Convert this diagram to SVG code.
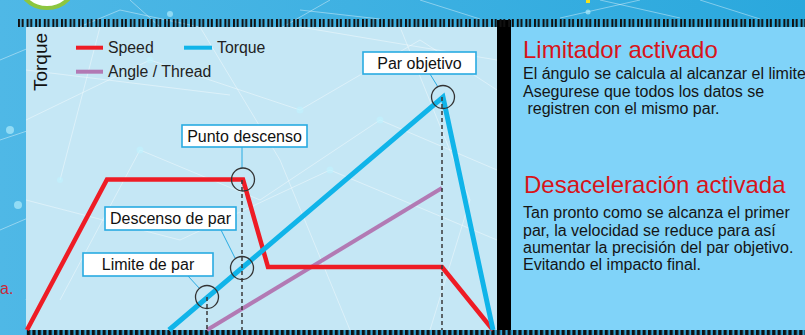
<svg xmlns="http://www.w3.org/2000/svg" width="805" height="335" viewBox="0 0 805 335">
  <defs>
    <linearGradient id="bg" x1="0" y1="0" x2="1" y2="0">
      <stop offset="0" stop-color="#4fb8e6"/>
      <stop offset="1" stop-color="#2aa8dd"/>
    </linearGradient>
    <pattern id="ticksTop" x="18" y="19" width="8.6" height="8" patternUnits="userSpaceOnUse">
      <rect x="0" y="0" width="2" height="8" fill="#111"/>
      <rect x="3.6" y="0" width="2" height="8" fill="#111"/>
    </pattern>
    <pattern id="ticksBot" x="27" y="330" width="5.4" height="5" patternUnits="userSpaceOnUse">
      <rect x="0" y="0" width="3.2" height="5" fill="#111"/>
    </pattern>
  </defs>
  <style>
    .sans { font-family: "Liberation Sans", Arial, sans-serif; }
    .net { stroke: #ffffff; stroke-width: 1; opacity: 0.4; fill: none; }
    .dot { fill: #bff3ff; opacity: 0.6; }
    .callout rect { fill: #ffffff; stroke: #29abe2; stroke-width: 1.6; }
    .callout text { font-family: "Liberation Sans", Arial, sans-serif; font-size: 16px; fill: #111; text-anchor: middle; }
    .leader { stroke: #29abe2; stroke-width: 1; fill: none; }
    .guide { stroke: #3a3a3a; stroke-width: 1.5; stroke-dasharray: 4 3; fill: none; }
    .ring { stroke: #333; stroke-width: 1.3; fill: none; }
    .series { fill: none; stroke-linejoin: miter; stroke-linecap: butt; }
    .head { font-family: "Liberation Sans", Arial, sans-serif; font-size: 24px; fill: #d7141a; }
    .body { font-family: "Liberation Sans", Arial, sans-serif; font-size: 16px; fill: #151515; }
  </style>

  <!-- background -->
  <rect x="0" y="0" width="805" height="335" fill="url(#bg)"/>
  <g id="background-network">
    <path class="net" d="M0 60 L120 10 L260 40 L330 0 M0 140 L90 110 L200 150 M0 230 L70 200 L26 300 M130 0 L180 45 M560 18 L640 0 M600 0 L680 18 M700 0 L760 19 M420 0 L480 19 M300 10 L380 19"/>
    <circle class="dot" cx="10" cy="130" r="4"/>
    <circle class="dot" cx="18" cy="205" r="4"/>
    <circle class="dot" cx="170" cy="14" r="3"/>
    <circle class="dot" cx="588" cy="12" r="2.5"/>
  </g>
  <circle cx="47" cy="-22" r="30" fill="#ffffff" stroke="#8dc63f" stroke-width="4"/>
  <rect x="586" y="0" width="4" height="3" fill="#f5e11c"/>

  <!-- chart panel -->
  <rect id="chart-panel" x="26" y="27" width="471" height="303" fill="#c5e7f5"/>
  <g id="chart-network">
    <path class="net" d="M26 120 L150 60 L300 110 L420 40 L497 90 M60 300 L140 150 L260 200 L380 120 L497 170 M26 200 L180 240 L330 170 L497 240 M200 27 L280 160 L350 330 M100 27 L60 180 M400 27 L470 200 L430 330 M300 27 L497 60 M26 70 L230 95"/>
    <circle class="dot" cx="150" cy="60" r="3.5"/>
    <circle class="dot" cx="300" cy="110" r="3.5"/>
    <circle class="dot" cx="140" cy="150" r="3.5"/>
    <circle class="dot" cx="380" cy="120" r="3.5"/>
    <circle class="dot" cx="330" cy="170" r="3.5"/>
    <circle class="dot" cx="60" cy="180" r="3"/>
  </g>

  <!-- right info panel -->
  <rect id="info-panel" x="511" y="27" width="294" height="303" fill="#80d3f9"/>
  <rect id="divider" x="497" y="20" width="14" height="310" fill="#000"/>

  <!-- tick strips -->
  <rect x="18" y="19" width="787" height="8" fill="url(#ticksTop)"/>
  <rect x="26" y="330" width="779" height="5" fill="#2f9fd0"/>
  <rect x="27" y="330" width="778" height="5" fill="url(#ticksBot)"/>

  <!-- axis label -->
  <text class="sans" transform="translate(47,62) rotate(-90)" text-anchor="middle" font-size="19" fill="#111">Torque</text>

  <!-- legend -->
  <g id="legend">
    <line x1="76" y1="47.7" x2="103" y2="47.7" stroke="#ee1c25" stroke-width="4"/>
    <text class="sans" x="108" y="52.7" font-size="15.8" fill="#222">Speed</text>
    <line x1="184" y1="47.7" x2="212" y2="47.7" stroke="#10b4e9" stroke-width="4"/>
    <text class="sans" x="217" y="52.7" font-size="15.8" fill="#222">Torque</text>
    <line x1="76" y1="71.7" x2="103" y2="71.7" stroke="#b27ab4" stroke-width="4"/>
    <text class="sans" x="108" y="76.7" font-size="15.8" fill="#222">Angle / Thread</text>
  </g>

  <!-- series -->
  <g id="series">
    <polyline id="angle" class="series" points="207,330 442,188" stroke="#b27ab4" stroke-width="4"/>
    <polyline id="speed" class="series" points="27,330 107,179.5 243,179.5 268,267 442,267 493,330" stroke="#ee1c25" stroke-width="4.5"/>
    <polyline id="torque" class="series" points="169,330 443,97 493,330" stroke="#10b4e9" stroke-width="5"/>
  </g>

  <!-- connectors: guides and leaders -->
  <g id="connectors">
    <line class="guide" x1="207" y1="297" x2="207" y2="330"/>
    <line class="guide" x1="242" y1="180" x2="242" y2="330"/>
    <line class="guide" x1="442" y1="97" x2="442" y2="330"/>
    <line class="leader" x1="430" y1="74" x2="438" y2="87"/>
    <line class="leader" x1="242" y1="147" x2="242" y2="168"/>
    <line class="leader" x1="221" y1="230" x2="235" y2="258"/>
    <line class="leader" x1="188" y1="276" x2="200" y2="289"/>
  </g>

  <!-- marker rings -->
  <g id="rings">
    <circle class="ring" cx="443" cy="97" r="11.5"/>
    <circle class="ring" cx="243" cy="179.5" r="11.5"/>
    <circle class="ring" cx="242" cy="268" r="11.5"/>
    <circle class="ring" cx="207" cy="297" r="11.5"/>
  </g>

  <!-- callouts -->
  <g id="callout-par-objetivo" class="callout">
    <rect x="363" y="52" width="113" height="22"/>
    <text x="419.5" y="68.5">Par objetivo</text>
  </g>
  <g id="callout-punto-descenso" class="callout">
    <rect x="182" y="125" width="125" height="22"/>
    <text x="244.5" y="141.5">Punto descenso</text>
  </g>
  <g id="callout-descenso-de-par" class="callout">
    <rect x="105" y="207" width="131" height="23"/>
    <text x="170.5" y="224">Descenso de par</text>
  </g>
  <g id="callout-limite-de-par" class="callout">
    <rect x="83" y="253" width="130" height="23"/>
    <text x="148" y="270">Limite de par</text>
  </g>

  <!-- side text -->
  <text class="sans" x="0" y="294" font-size="16" fill="#c8283a">a.</text>

  <!-- info panel texts -->
  <g id="info-limitador">
    <text class="head" x="523" y="58">Limitador activado</text>
    <text class="body" x="523" y="79">El ángulo se calcula al alcanzar el limite</text>
    <text class="body" x="523" y="97">Asegurese que todos los datos se</text>
    <text class="body" x="523" y="114" xml:space="preserve"> registren con el mismo par.</text>
  </g>
  <g id="info-desaceleracion">
    <text class="head" x="524" y="193">Desaceleración activada</text>
    <text class="body" x="523" y="218" font-size="15.6">Tan pronto como se alcanza el primer</text>
    <text class="body" x="523" y="236" font-size="15.6">par, la velocidad se reduce para así</text>
    <text class="body" x="523" y="253" font-size="15.6">aumentar la precisión del par objetivo.</text>
    <text class="body" x="523" y="270" font-size="15.6">Evitando el impacto final.</text>
  </g>
</svg>
